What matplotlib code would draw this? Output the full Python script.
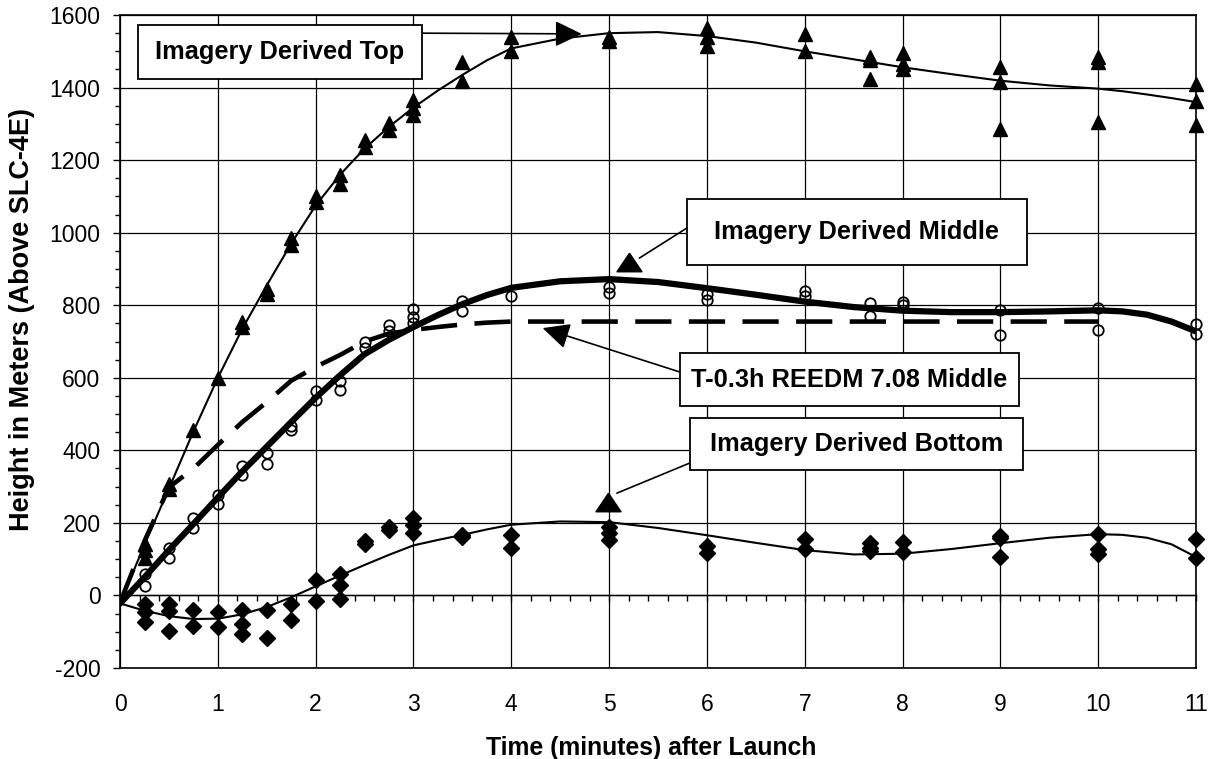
import matplotlib
matplotlib.use("Agg")
import matplotlib.pyplot as plt
from matplotlib.ticker import MultipleLocator

plt.rcParams['font.family'] = ['Liberation Sans', 'DejaVu Sans']
plt.rcParams['axes.unicode_minus'] = False

# ---------------- data ----------------
top_time = [0.25, 0.25, 0.25, 0.5, 0.5, 0.75, 1.0, 1.25, 1.25, 1.5, 1.5, 1.75, 1.75,
            2.0, 2.0, 2.25, 2.25, 2.5, 2.5, 2.75, 2.75, 3.0, 3.0, 3.0, 3.5, 3.5,
            4.0, 4.0, 5.0, 5.0, 6.0, 6.0, 6.0, 7.0, 7.0, 7.67, 7.67, 7.67,
            8.0, 8.0, 8.0, 9.0, 9.0, 9.0, 10.0, 10.0, 10.0, 11.0, 11.0, 11.0]
top_height = [143, 124, 103, 307, 294, 457, 600, 754, 740, 845, 832, 985, 965,
              1102, 1084, 1159, 1135, 1255, 1235, 1301, 1283, 1366, 1343, 1324, 1470, 1419,
              1539, 1502, 1540, 1528, 1563, 1539, 1516, 1548, 1500, 1485, 1475, 1424,
              1494, 1466, 1452, 1456, 1416, 1287, 1484, 1470, 1306, 1409, 1363, 1297]

mid_time = [0.25, 0.25, 0.5, 0.5, 0.75, 0.75, 1.0, 1.0, 1.25, 1.25, 1.5, 1.5,
            1.75, 1.75, 2.0, 2.0, 2.25, 2.25, 2.5, 2.5, 2.75, 2.75, 3.0, 3.0, 3.0,
            3.5, 3.5, 4.0, 5.0, 5.0, 6.0, 6.0, 7.0, 7.0, 7.67, 7.67, 8.0, 8.0,
            9.0, 9.0, 10.0, 10.0, 11.0, 11.0]
mid_height = [58, 26, 132, 103, 213, 186, 277, 253, 358, 331, 393, 361,
              467, 456, 564, 539, 592, 567, 698, 681, 745, 728, 790, 768, 750,
              812, 784, 826, 851, 835, 831, 814, 838, 826, 805, 771, 810, 800,
              786, 719, 792, 733, 749, 721]

bot_time = [0.25, 0.25, 0.25, 0.5, 0.5, 0.5, 0.75, 0.75, 1.0, 1.0, 1.25, 1.25, 1.25,
            1.5, 1.5, 1.75, 1.75, 2.0, 2.0, 2.25, 2.25, 2.25, 2.5, 2.5, 2.75, 2.75,
            3.0, 3.0, 3.0, 3.5, 3.5, 4.0, 4.0, 5.0, 5.0, 5.0, 6.0, 6.0, 7.0, 7.0,
            7.67, 7.67, 7.67, 8.0, 8.0, 9.0, 9.0, 9.0, 10.0, 10.0, 10.0, 11.0, 11.0]
bot_height = [-23, -46, -72, -23, -44, -97, -39, -85, -46, -86, -41, -78, -106,
              -41, -118, -23, -69, 43, -14, 60, 28, -11, 150, 142, 189, 180,
              213, 194, 172, 167, 162, 168, 132, 189, 171, 153, 135, 117, 156, 129,
              145, 132, 123, 148, 121, 165, 159, 106, 170, 128, 115, 156, 103]

# trend curves
fit_time = [0.0, 0.25, 0.5, 0.75, 1.0, 1.25, 1.5, 1.75, 2.0, 2.25, 2.5, 2.75, 3.0,
            3.25, 3.5, 3.75, 4.0, 4.5, 5.0, 5.5, 6.0, 6.5, 7.0, 7.5, 8.0, 8.5,
            9.0, 9.5, 10.0, 10.25, 10.5, 10.75, 11.0]
top_fit = [-22, 140, 295, 452, 600, 735, 855, 970, 1075, 1160, 1232, 1292, 1345,
           1392, 1435, 1475, 1508, 1535, 1550, 1553, 1542, 1524, 1500, 1478, 1456, 1437,
           1419, 1406, 1397, 1390, 1381, 1371, 1360]
mid_fit = [-22, 50, 125, 197, 270, 342, 410, 478, 545, 607, 665, 705, 740,
           773, 803, 828, 848, 866, 872, 864, 847, 829, 810, 795, 785, 781,
           781, 783, 786, 783, 774, 755, 728]
bot_fit = [-22, -42, -57, -65, -64, -52, -32, -5, 25, 55, 84, 112, 138,
           153, 167, 182, 195, 204, 202, 186, 166, 145, 125, 113, 115, 128,
           144, 159, 169, 167, 159, 141, 106]

reedm_time = [0.0, 0.25, 0.5, 0.75, 1.0, 1.25, 1.5, 1.75, 2.0, 2.25, 2.5, 2.75,
              3.0, 3.25, 3.5, 3.75, 4.0, 5.0, 6.0, 7.0, 8.0, 9.0, 10.0]
reedm_height = [-20, 150, 298, 350, 415, 478, 533, 592, 630, 663, 700, 722,
                732, 740, 747, 752, 755, 755, 755, 755, 755, 755, 755]

x_ticks = list(range(0, 12))
y_ticks = list(range(-200, 1601, 200))

# ---------------- figure ----------------
fig = plt.figure(figsize=(12.09, 7.59), dpi=100)
ax = fig.add_axes([0.0993, 0.1199, 0.8899, 0.8603])
ax.set_xlim(0, 11)
ax.set_ylim(-200, 1600)
ax.set_xticks(x_ticks)
ax.set_yticks(y_ticks)
ax.yaxis.set_minor_locator(MultipleLocator(50))
ax.grid(True, which='major', color='black', lw=0.9)
ax.set_axisbelow(True)
for s in ax.spines.values():
    s.set_linewidth(1.2)

ax.tick_params(axis='x', which='major', length=0, pad=18, labelsize=16.5)
ax.tick_params(axis='y', which='major', length=5, width=1, direction='out', pad=9, labelsize=16.5)
ax.tick_params(axis='y', which='minor', length=3.5, width=1, direction='out')

# x axis crossing at y = 0 with minor ticks
loc0 = (0 - (-200)) / 1800.0
sec = ax.secondary_xaxis(loc0)
sec.xaxis.set_major_locator(MultipleLocator(0.2))
sec.tick_params(which='major', direction='out', length=4, width=1, labelbottom=False, labeltop=False)
for s in sec.spines.values():
    s.set_linewidth(1.0)

# curves
ax.plot(fit_time, top_fit, color='black', lw=1.5, zorder=3, solid_joinstyle='round')
ax.plot(fit_time, bot_fit, color='black', lw=1.5, zorder=3, solid_joinstyle='round')
ax.plot(fit_time, mid_fit, color='black', lw=4.5, zorder=3, solid_joinstyle='round',
        solid_capstyle='round')
ax.plot(reedm_time, reedm_height, color='black', lw=3.3, zorder=3,
        linestyle=(0, (7.9, 3.8)), dash_capstyle='butt')

# points
ax.plot(top_time, top_height, linestyle='none', marker='^', ms=9.5, color='black',
        zorder=4, clip_on=False)
ax.plot(mid_time, mid_height, linestyle='none', marker='o', ms=7.5, mfc='none',
        mec='black', mew=1.3, zorder=4, clip_on=False)
ax.plot(bot_time, bot_height, linestyle='none', marker='D', ms=8, color='black',
        zorder=4, clip_on=False)

ax.set_xlabel('Time (minutes) after Launch', fontsize=17.8, fontweight='bold')
ax.set_ylabel('Height in Meters (Above SLC-4E)', fontsize=19.5, fontweight='bold')
ax.xaxis.set_label_coords(0.494, -0.104)
ax.yaxis.set_label_coords(-0.079, 0.533)

# ---------------- callout boxes ----------------
def box(x0, x1, y0, y1, text):
    ax.add_patch(plt.Rectangle((x0, y0), x1 - x0, y1 - y0, fc='white', ec='black',
                               lw=1.3, zorder=6))
    ax.text((x0 + x1) / 2, (y0 + y1) / 2, text, ha='center', va='center',
            fontsize=18.3, fontweight='bold', zorder=7)

arrow_kw = dict(arrowstyle='-|>,head_length=0.83,head_width=0.4', mutation_scale=20,
                color='black', lw=1.2, shrinkA=0, shrinkB=0)
line_kw = dict(arrowstyle='-', color='black', lw=1.2, shrinkA=0, shrinkB=0)
tri_up = [(0, 1), (-1.35, -1), (1.35, -1), (0, 1)]

box(0.184, 3.087, 1424, 1572, 'Imagery Derived Top')
ax.annotate('', xy=(4.72, 1548), xytext=(3.087, 1550), arrowprops=arrow_kw, zorder=5)

box(5.796, 9.272, 911, 1093, 'Imagery Derived Middle')
ax.annotate('', xy=(5.31, 930), xytext=(5.796, 1013), arrowprops=line_kw, zorder=5)
ax.plot([5.20], [918], marker=tri_up, ms=18, color='black', linestyle='none', zorder=5)

box(5.723, 9.188, 522, 668, 'T-0.3h REEDM 7.08 Middle')
ax.annotate('', xy=(4.32, 737), xytext=(5.723, 616), arrowprops=arrow_kw, zorder=5)

box(5.825, 9.228, 346, 489, 'Imagery Derived Bottom')
ax.annotate('', xy=(5.08, 282), xytext=(5.825, 365), arrowprops=line_kw, zorder=5)
ax.plot([4.99], [258], marker=tri_up, ms=18, color='black', linestyle='none', zorder=5)

fig.savefig('out.png', dpi=100)
